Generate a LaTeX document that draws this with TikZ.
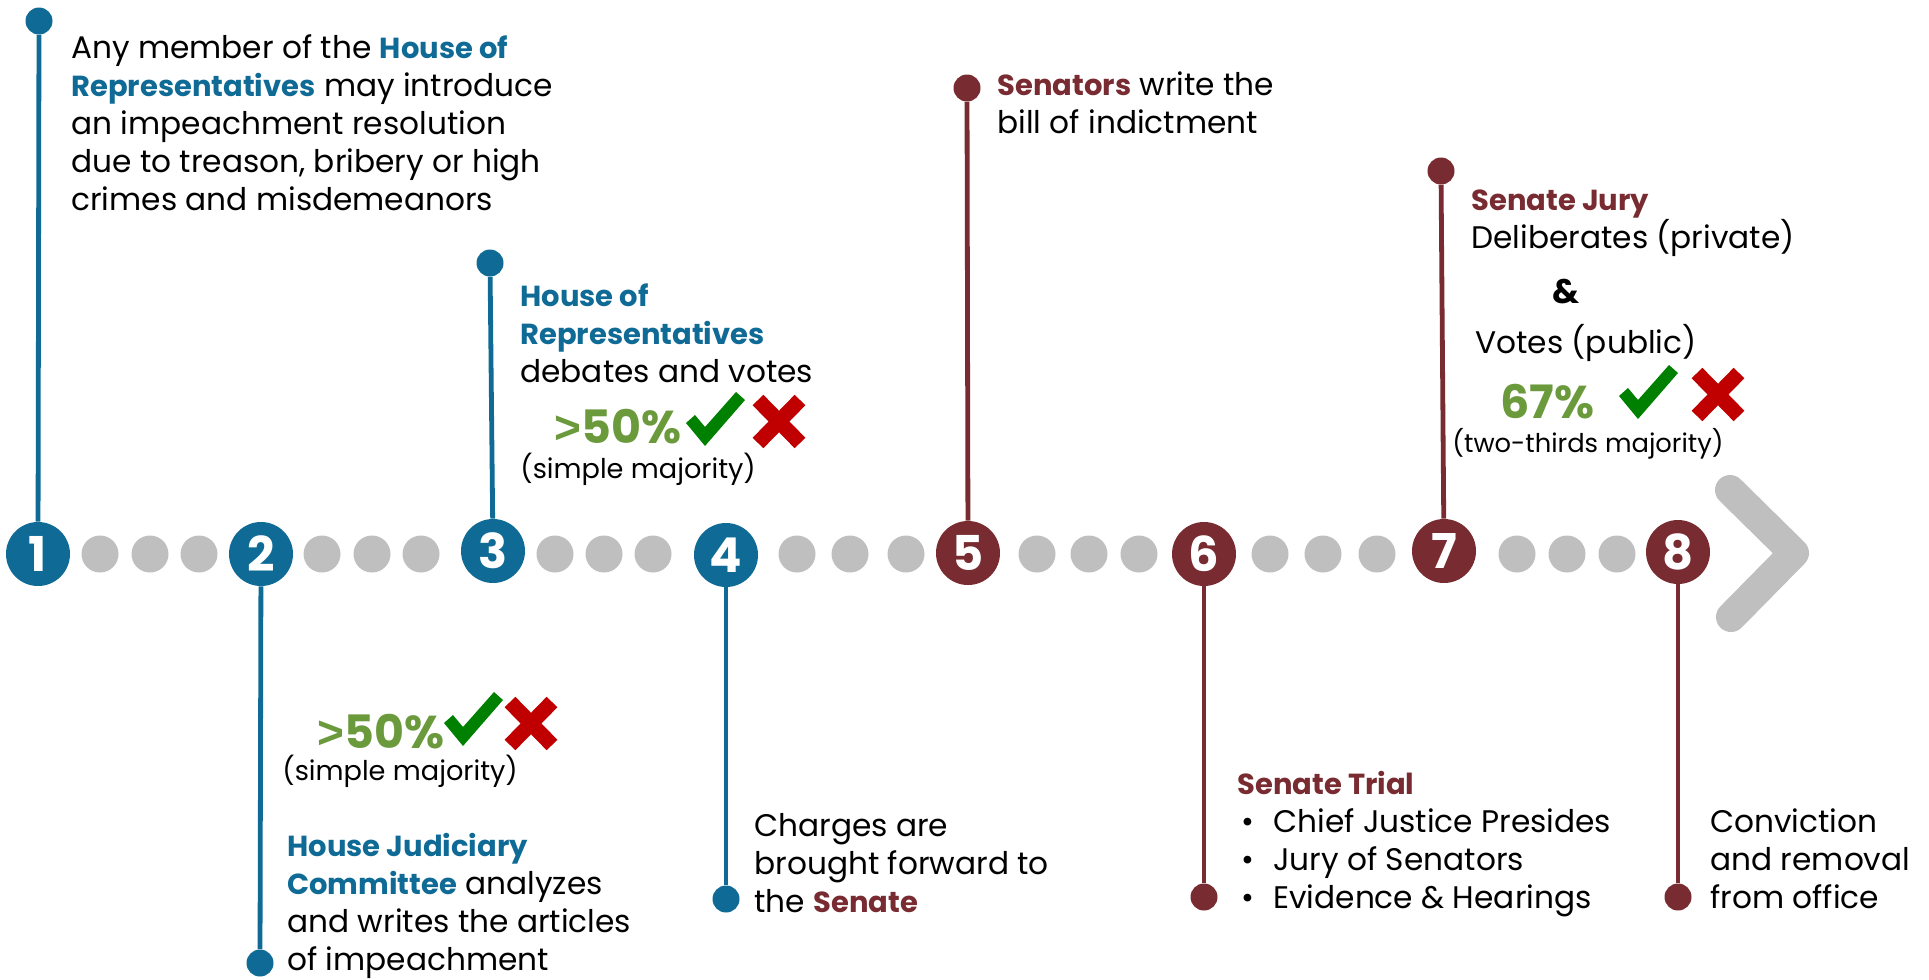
\documentclass[tikz,border=0pt]{standalone}
\usepackage{fontspec}
\setmainfont{Poppins}
\newfontfamily\gtfont{Liberation Sans}

\definecolor{houseblue}{HTML}{0F6B96}
\definecolor{senatered}{HTML}{782B30}
\definecolor{dotgrey}{HTML}{BFBFBF}
\definecolor{pctgreen}{HTML}{6A9A3C}
\definecolor{yesgreen}{HTML}{008000}
\definecolor{nored}{HTML}{C00000}

\newcommand{\housetxt}[1]{{\fontsize{14.5}{19}\selectfont\bfseries\color{houseblue}#1}}
\newcommand{\senatetxt}[1]{{\fontsize{14.5}{19}\selectfont\bfseries\color{senatered}#1}}
\newcommand{\bul}{\hspace*{2pt}\makebox[16pt][l]{\textbullet}}
\newcommand{\more}{{\gtfont\bfseries\fontsize{23}{23}\selectfont>}}

\tikzset{
  stepnum/.style={circle, minimum size=32pt, inner sep=0pt, text=white,
    font=\fontsize{24}{24}\selectfont\bfseries},
  greydot/.style={circle, fill=dotgrey, minimum size=18.5pt, inner sep=0pt},
  pin/.style={circle, minimum size=13.5pt, inner sep=0pt},
  stem/.style={line width=2.4pt},
  % anchored on the baseline of the last line
  body/.style={anchor=base west, align=left, inner sep=0pt,
    font=\fontsize{15.6}{19}\selectfont},
  majority/.style={anchor=base west, inner sep=0pt,
    font=\fontsize{13.6}{15}\selectfont},
  pct/.style={anchor=base west, inner sep=0pt, text=pctgreen,
    font=\fontsize{23}{23}\selectfont\bfseries},
  tick/.pic={\fill[yesgreen] (1,31) -- (10,23) -- (20,35) -- (51,0) -- (60,8) -- (20,54) -- cycle;},
  cross/.pic={\draw[nored, line width=7.5pt] (5,5) -- (47,48) (47,5) -- (5,48);}
}

\begin{document}
\begin{tikzpicture}[x=0.5pt, y=-0.5pt]
  \useasboundingbox (0,0) rectangle (1929,980);

  % Steps on the timeline
  \node[stepnum, fill=houseblue] (c1) at (38,554) {1};
  \node[stepnum, fill=houseblue] (c2) at (261,554) {2};
  \node[stepnum, fill=houseblue] (c3) at (493,551) {3};
  \node[stepnum, fill=houseblue] (c4) at (726,555) {4};
  \node[stepnum, fill=senatered] (c5) at (968,553) {5};
  \node[stepnum, fill=senatered] (c6) at (1204,554) {6};
  \node[stepnum, fill=senatered] (c7) at (1444,551) {7};
  \node[stepnum, fill=senatered] (c8) at (1678,552) {8};

  % Grey dots in between
  \foreach \x in {100,150,199,322,372,421,555,604,653,797,850,906,1037,1089,1139,1270,1323,1377,1517,1567,1617}
    \node[greydot] (g\x) at (\x,554) {};

  % Arrow head at the end
  \draw[dotgrey, line width=15pt, line cap=round, line join=round]
    (1730,490) -- (1794,553) -- (1731,617);

  % Pins and stems
  \node[pin, fill=houseblue] (p1) at (39,21) {};
  \node[pin, fill=houseblue] (p2) at (260,963) {};
  \node[pin, fill=houseblue] (p3) at (490,263) {};
  \node[pin, fill=houseblue] (p4) at (726,899) {};
  \node[pin, fill=senatered] (p5) at (967,88) {};
  \node[pin, fill=senatered] (p6) at (1204,897) {};
  \node[pin, fill=senatered] (p7) at (1441,171) {};
  \node[pin, fill=senatered] (p8) at (1678,897) {};
  \foreach \i in {1,...,4}
    \draw[stem, houseblue] (p\i) -- (c\i);
  \foreach \i in {5,...,8}
    \draw[stem, senatered] (p\i) -- (c\i);

  % Step texts
  \node[body] (t1) at (71,210) {Any member of the \housetxt{House of}\\
    \housetxt{Representatives} may introduce\\ an impeachment resolution\\
    due to treason, bribery or high\\ crimes and misdemeanors};

  \node[pct] (v2) at (317,748) {\more50\%};
  \pic at (443,692) {tick};
  \pic at (505,697) {cross};
  \node[majority] (m2) at (282,780) {(simple majority)};
  \node[body] (t2) at (287,970) {\housetxt{House Judiciary}\\
    \housetxt{Committee} analyzes\\ and writes the articles\\ of impeachment};

  \node[body] (t3) at (520,382) {\housetxt{House of}\\ \housetxt{Representatives}\\ debates and votes};
  \node[pct] (v3) at (554,443) {\more50\%};
  \pic at (685,392) {tick};
  \pic at (753,395) {cross};
  \node[majority] (m3) at (520,478) {(simple majority)};

  \node[body] (t4) at (754,912) {Charges are\\ brought forward to\\ the \senatetxt{Senate}};

  \node[body] (t5) at (997,133) {\senatetxt{Senators} write the\\ bill of indictment};

  \node[body] (t6) at (1237,908) {\senatetxt{Senate Trial}\\ \bul Chief Justice Presides\\
    \bul Jury of Senators\\ \bul Evidence \& Hearings};

  \node[body] (t7) at (1471,248) {\senatetxt{Senate Jury}\\ Deliberates (private)};
  \node[body, font=\fontsize{17}{19}\selectfont\bfseries] (amp) at (1552,303) {\&};
  \node[body] (t7b) at (1475,353) {Votes (public)};
  \node[pct] (v7) at (1500,418) {67\%};
  \pic at (1618,365) {tick};
  \pic at (1692,368) {cross};
  \node[majority, font=\fontsize{12.9}{15}\selectfont] (m7) at (1452,452) {(two-thirds majority)};

  \node[body] (t8) at (1710,908) {Conviction\\ and removal\\ from office};
\end{tikzpicture}
\end{document}
